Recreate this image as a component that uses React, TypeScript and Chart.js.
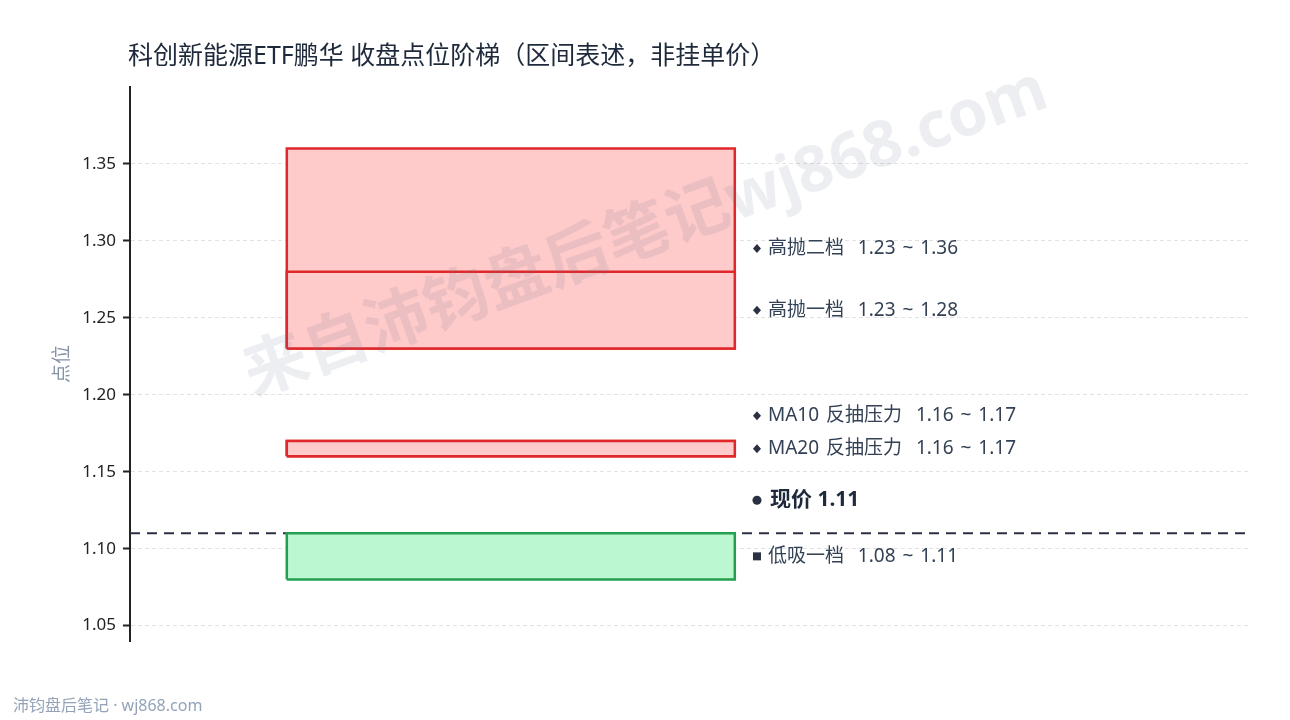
import React, { useEffect, useRef } from "react";
import { Chart, registerables } from "chart.js";

Chart.register(...registerables);

const chartTitle = "科创新能源ETF鹏华 收盘点位阶梯（区间表述，非挂单价）";
const yAxisTitle = "点位";
const footerText = "沛钧盘后笔记 · wj868.com";
const watermarkText = "来自沛钧盘后笔记wj868.com";

const zoneNames = ["高抛二档", "高抛一档", "MA10 反抽压力", "MA20 反抽压力", "低吸一档"];
const zoneLow = [1.23, 1.23, 1.16, 1.16, 1.08];
const zoneHigh = [1.36, 1.28, 1.17, 1.17, 1.11];
const zoneKinds = ["sell", "sell", "sell", "sell", "buy"];

const currentLabel = "现价";
const currentPrice = 1.11;

const yTicks = [1.05, 1.1, 1.15, 1.2, 1.25, 1.3, 1.35];
const yMin = 1.04;
const yMax = 1.4;

const FONT = '"Noto Sans", "Noto Sans CJK SC", sans-serif';
const BOX_X0 = 0.14;
const BOX_X1 = 0.54;
const LABEL_X = 0.5598;

export default function App() {
  const ref = useRef<HTMLCanvasElement>(null);

  useEffect(() => {
    document.body.style.margin = "0";
    const canvas = ref.current!;

    const datasets: any[] = zoneNames.map((name, i) => {
      const buy = zoneKinds[i] === "buy";
      return {
        type: "scatter",
        label: name,
        data: [
          { x: BOX_X0, y: zoneLow[i] },
          { x: BOX_X0, y: zoneHigh[i] },
          { x: BOX_X1, y: zoneHigh[i] },
          { x: BOX_X1, y: zoneLow[i] },
          { x: BOX_X0, y: zoneLow[i] },
        ],
        showLine: true,
        fill: "shape",
        backgroundColor: buy ? "#bbf7d0" : "#fecaca",
        borderColor: buy ? "#22a04f" : "#e0282b",
        borderWidth: 2.5,
        borderJoinStyle: "miter",
        pointRadius: 0,
        pointHoverRadius: 0,
        tension: 0,
        order: zoneNames.length - i,
      };
    });
    datasets.push({
      type: "scatter",
      label: currentLabel,
      data: [
        { x: 0, y: currentPrice },
        { x: 1, y: currentPrice },
      ],
      showLine: true,
      fill: false,
      borderColor: "#2b3142",
      borderWidth: 2,
      borderDash: [10, 7],
      pointRadius: 0,
      pointHoverRadius: 0,
      order: 99,
    });

    const decor = {
      id: "decor",
      afterDatasetsDraw(chart: any) {
        const ctx = chart.ctx as any;
        const ys = chart.scales.y;
        const xs = chart.scales.x;
        const mx = xs.getPixelForValue(LABEL_X);
        const items: any[] = zoneNames.map((n, i) => ({
          idx: i,
          y: ys.getPixelForValue((zoneLow[i] + zoneHigh[i]) / 2),
          text: `${n}  ${zoneLow[i].toFixed(2)} ~ ${zoneHigh[i].toFixed(2)}`,
          marker: zoneKinds[i] === "buy" ? "square" : "diamond",
          bold: false,
        }));
        items.push({
          idx: zoneNames.length,
          y: ys.getPixelForValue(currentPrice) - 33,
          text: `${currentLabel} ${currentPrice.toFixed(2)}`,
          marker: "circle",
          bold: true,
        });
        const sorted = [...items].sort((a, b) => b.y - a.y || b.idx - a.idx);
        let prev = Infinity;
        for (const it of sorted) {
          if (it.y > prev - 33) it.y = prev - 33;
          prev = it.y;
        }
        ctx.save();
        for (const it of items) {
          ctx.fillStyle = "#2b3142";
          ctx.beginPath();
          if (it.marker === "diamond") {
            ctx.moveTo(mx, it.y - 4.5);
            ctx.lineTo(mx + 4, it.y);
            ctx.lineTo(mx, it.y + 4.5);
            ctx.lineTo(mx - 4, it.y);
            ctx.closePath();
            ctx.fill();
          } else if (it.marker === "square") {
            ctx.fillRect(mx - 4, it.y - 4, 8, 8);
          } else {
            ctx.arc(mx, it.y, 4.5, 0, Math.PI * 2);
            ctx.fill();
          }
          ctx.font = `${it.bold ? "bold " : ""}${it.bold ? 21 : 19}px ${FONT}`;
          ctx.wordSpacing = it.bold ? "0px" : "2px";
          ctx.fillStyle = it.bold ? "#1e293b" : "#334155";
          ctx.textAlign = "left";
          ctx.textBaseline = "middle";
          ctx.fillText(it.text, mx + (it.bold ? 13 : 11), it.y);
        }
        ctx.restore();
      },
      afterDraw(chart: any) {
        const ctx = chart.ctx as CanvasRenderingContext2D;
        const area = chart.chartArea;
        ctx.save();
        // title
        ctx.font = `25px ${FONT}`;
        ctx.fillStyle = "#1e293b";
        ctx.textAlign = "left";
        ctx.textBaseline = "middle";
        ctx.fillText(chartTitle, 128, 57);
        // y axis title
        ctx.save();
        ctx.translate(63, (area.top + area.bottom) / 2);
        ctx.rotate(-Math.PI / 2);
        ctx.font = `19px ${FONT}`;
        ctx.fillStyle = "#8591a5";
        ctx.textAlign = "center";
        ctx.textBaseline = "middle";
        ctx.fillText(yAxisTitle, 0, 0);
        ctx.restore();
        // footer
        ctx.font = `16px ${FONT}`;
        ctx.fillStyle = "#94a3b8";
        ctx.textAlign = "left";
        ctx.textBaseline = "middle";
        ctx.fillText(footerText, 13, 706);
        // watermark
        ctx.translate(646, 234);
        ctx.rotate((-20 * Math.PI) / 180);
        ctx.font = `bold 64px ${FONT}`;
        ctx.fillStyle = "rgba(100,116,139,0.12)";
        ctx.textAlign = "center";
        ctx.textBaseline = "middle";
        ctx.fillText(watermarkText, 0, 0);
        ctx.restore();
      },
    };

    const chart = new Chart(canvas, {
      type: "scatter",
      data: { datasets },
      options: {
        animation: false,
        responsive: false,
        devicePixelRatio: 1,
        events: [],
        layout: { padding: { left: 0, top: 87, right: 40, bottom: 79 } },
        plugins: {
          legend: { display: false },
          tooltip: { enabled: false },
          title: { display: false },
        },
        scales: {
          x: { type: "linear", min: 0, max: 1, display: false },
          y: {
            type: "linear",
            min: yMin,
            max: yMax,
            afterBuildTicks: (s: any) => {
              s.ticks = yTicks.map((v) => ({ value: v }));
            },
            afterFit: (s: any) => {
              s.width = 130;
            },
            ticks: {
              font: { family: FONT, size: 17 },
              color: "#222",
              padding: 7,
              callback: (v: any) => Number(v).toFixed(2),
            },
            grid: {
              color: "#e2e2e2",
              lineWidth: 1,
              drawTicks: true,
              tickColor: "#222",
              tickLength: 7,
              tickWidth: 2,
            },
            border: { display: true, color: "#222", width: 2, dash: [4, 3] },
          },
        },
      } as any,
      plugins: [decor],
    });
    return () => chart.destroy();
  }, []);

  return (
    <div style={{ width: 1290, height: 720, background: "#fff" }}>
      <canvas ref={ref} width={1290} height={720} style={{ display: "block" }} />
    </div>
  );
}
